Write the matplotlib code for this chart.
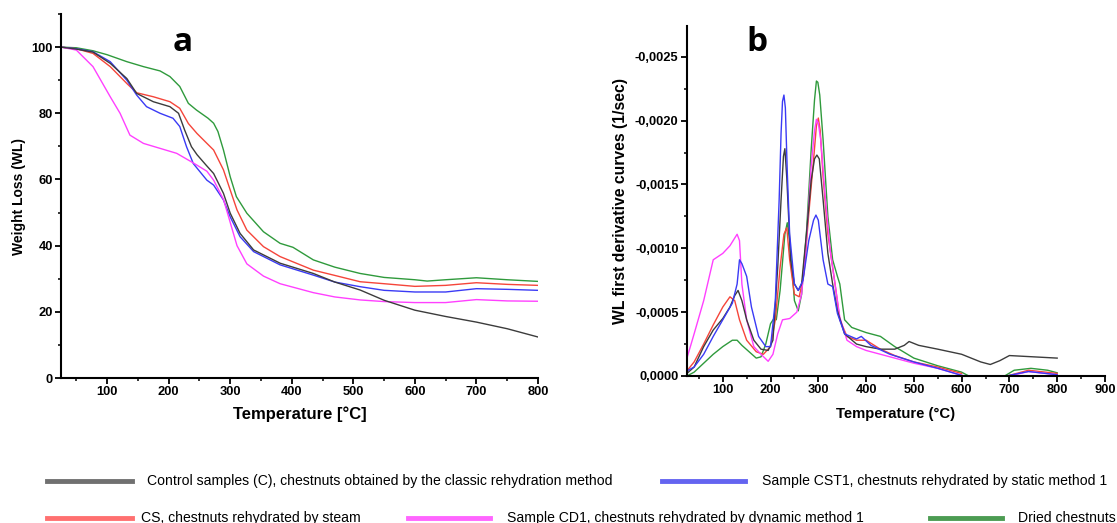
import numpy as np
import matplotlib
matplotlib.use("Agg")
import matplotlib.pyplot as plt
from matplotlib.lines import Line2D
from matplotlib.ticker import MultipleLocator, FuncFormatter

# ---- panel a : TGA weight loss curves ----
temp_c = [25, 50, 77, 105, 132, 148, 175, 202, 216, 226, 237, 246, 260, 273, 289, 300, 316, 338,
          381, 435, 470, 511, 550, 600, 650, 700, 750, 800]
wl_control = [100, 99.4, 98.5, 95.1, 90.5, 86, 83.5, 82, 80, 74.9, 69.9, 67.5, 64.5, 61.8, 55.8, 49.8, 43.7, 38.7,
              34.7, 31.6, 29, 26.6, 23.5, 20.5, 18.6, 16.9, 14.9, 12.4]

temp_cst1 = [25, 50, 77, 105, 132, 148, 164, 186, 207, 218, 229, 240, 262, 273, 289, 300, 316, 338,
             381, 435, 470, 511, 550, 600, 650, 700, 750, 800]
wl_cst1 = [100, 99.5, 98.6, 95.6, 90, 85.5, 82, 80, 78.5, 76, 69.9, 64.8, 59.8, 58.3, 53.8, 48.7, 42.7, 38.2,
           34.2, 31.1, 29, 27.6, 26.5, 26, 26, 27, 26.8, 26.5]

temp_cs = [25, 50, 77, 105, 132, 148, 175, 202, 218, 232, 246, 260, 273, 289, 300, 311, 327, 354,
           381, 435, 470, 511, 550, 600, 650, 700, 750, 800]
wl_cs = [100, 99.5, 98.1, 94.1, 89, 86.2, 85, 83.5, 81.5, 76.9, 73.9, 71.3, 68.9, 62.9, 56.8, 50.8, 44.7, 39.7,
         36.7, 32.6, 31, 29.1, 28.5, 27.7, 28, 28.8, 28.3, 28]

temp_cd1 = [25, 50, 77, 105, 121, 137, 159, 186, 213, 240, 262, 273, 289, 300, 311, 327, 354,
            381, 435, 470, 511, 550, 600, 650, 700, 750, 800]
wl_cd1 = [100, 99.1, 94.1, 85, 80, 73.4, 70.9, 69.4, 67.9, 65, 62.5, 59.8, 54, 47, 40, 34.5, 30.8,
          28.5, 25.8, 24.5, 23.6, 23.1, 22.8, 22.8, 23.7, 23.3, 23.2]

temp_dried = [25, 50, 77, 100, 132, 159, 186, 202, 218, 232, 245, 264, 273, 280, 289, 300, 310, 327, 354,
              381, 402, 435, 470, 511, 550, 600, 620, 650, 700, 750, 800]
wl_dried = [100, 99.8, 98.9, 97.7, 95.6, 94.1, 92.8, 91.1, 88.1, 83, 81, 78.5, 77, 74.5, 68.9, 60.8, 54.8, 49.8, 44.2,
            40.7, 39.5, 35.7, 33.5, 31.6, 30.4, 29.7, 29.3, 29.7, 30.3, 29.7, 29.2]

# ---- panel b : DTG first derivative curves, in units of -1e-4 1/sec ----
dt_control = [25, 40, 60, 80, 100, 115, 125, 132, 140, 150, 165, 180, 195, 205, 215, 222, 227, 230, 234, 242,
              250, 258, 265, 275, 285, 292, 297, 302, 310, 320, 330, 340, 355, 380, 400, 430, 460, 480,
              490, 510, 550, 600, 640, 660, 680, 700, 750, 800]
d_control = [0.2, 0.7, 2.3, 3.6, 4.5, 5.4, 6.3, 6.7, 5.9, 4.4, 2.8, 2.1, 2.0, 2.8, 8.5, 13.8, 17.2, 17.8, 15.5, 9.1,
             7.2, 6.7, 7.2, 11.1, 15.3, 17.0, 17.3, 17.0, 13.8, 9.6, 7.2, 5.1, 3.3, 2.5, 2.3, 2.1, 2.1, 2.4,
             2.7, 2.4, 2.1, 1.7, 1.1, 0.9, 1.2, 1.6, 1.5, 1.4]

dt_cst1 = [25, 40, 60, 80, 100, 120, 130, 135, 140, 150, 160, 175, 190, 200, 210, 218, 222, 225, 228, 231, 235,
           240, 250, 258, 268, 280, 290, 295, 300, 310, 320, 330, 340, 355, 380, 390, 410, 450,
           500, 550, 600, 650, 700, 740, 800]
d_cst1 = [0.4, 0.7, 1.7, 3.1, 4.4, 5.7, 7.2, 9.1, 8.8, 7.8, 5.4, 3.1, 2.3, 2.3, 5.9, 13.8, 19, 21.5, 22, 21, 16,
          11.1, 7.2, 6.7, 7.5, 10.6, 12.2, 12.6, 12.2, 9.1, 7.2, 7.0, 4.9, 3.3, 2.9, 3.1, 2.4, 1.7,
          1.1, 0.6, 0.05, np.nan, 0.05, 0.35, 0.1]

dt_cs = [25, 40, 60, 80, 100, 115, 125, 135, 150, 170, 185, 200, 210, 220, 228, 234, 240, 250, 260,
         270, 280, 290, 296, 300, 304, 310, 320, 335, 345, 360, 380, 400, 430, 460, 500, 550, 600,
         650, 700, 740, 800]
d_cs = [0.4, 1.1, 2.5, 4.0, 5.4, 6.2, 5.9, 4.4, 2.8, 1.9, 1.7, 2.3, 4.4, 8.5, 11.1, 11.6, 9.1, 6.4, 6.2,
        8.0, 12.7, 16.9, 19.6, 20.2, 19.2, 15.6, 11.1, 7.2, 4.4, 3.1, 2.8, 2.8, 2.1, 1.6, 1.1, 0.7, 0.2,
        np.nan, 0.05, 0.45, 0.2]

dt_cd1 = [25, 40, 60, 80, 100, 115, 130, 135, 140, 150, 165, 180, 195, 205, 215, 225, 240, 255, 265,
          275, 285, 292, 296, 300, 305, 315, 325, 335, 345, 360, 380, 400, 450, 500, 550, 600, 610,
          650, 700, 740, 800]
d_cd1 = [1.4, 3.3, 5.9, 9.1, 9.6, 10.2, 11.1, 10.6, 7.2, 4.4, 2.3, 1.7, 1.15, 1.7, 3.3, 4.4, 4.5, 5.0, 6.4,
         10.6, 16.4, 19.2, 20.1, 19.8, 18.5, 13.8, 9.8, 7.2, 4.6, 2.8, 2.3, 2.0, 1.5, 1.0, 0.6, 0.05, 0,
         np.nan, 0, 0.35, 0.1]

dt_dried = [25, 40, 60, 80, 100, 120, 130, 140, 155, 170, 180, 190, 200, 207, 212, 220, 230, 235, 240,
            250, 258, 265, 275, 285, 292, 296, 299, 303, 310, 320, 330, 340, 345, 355, 370, 400, 430,
            460, 500, 550, 600, 615, 650, 690, 710, 745, 780, 800]
d_dried = [0, 0.3, 1.0, 1.7, 2.3, 2.8, 2.8, 2.4, 1.9, 1.4, 1.5, 2.5, 4.1, 4.5, 4.4, 6.7, 11.1, 12.0, 10.6,
           5.9, 5.1, 6.4, 11.1, 17.7, 21.6, 23.1, 23.0, 22.0, 18.5, 12.5, 9.1, 7.8, 7.2, 4.4, 3.8, 3.4, 3.1,
           2.3, 1.4, 0.8, 0.3, 0, np.nan, 0, 0.45, 0.6, 0.45, 0.25]

col_control = "#3c3c3c"
col_cst1 = "#3a3af5"
col_cs = "#f5453a"
col_cd1 = "#ff40ff"
col_dried = "#2f9a3c"

labels = ["Control samples (C), chestnuts obtained by the classic rehydration method",
          "Sample CST1, chestnuts rehydrated by static method 1",
          "CS, chestnuts rehydrated by steam",
          "Sample CD1, chestnuts rehydrated by dynamic method 1",
          "Dried chestnuts"]

plt.rcParams['font.family'] = ['Liberation Sans', 'DejaVu Sans']

fig = plt.figure(figsize=(11.17, 5.23), dpi=100)


def style_axes(ax):
    for s in ['top', 'right']:
        ax.spines[s].set_visible(False)
    for s in ['left', 'bottom']:
        ax.spines[s].set_linewidth(1.5)
    ax.tick_params(which='major', direction='out', length=4, width=1.3, labelsize=9.3, pad=2)
    ax.tick_params(which='minor', direction='out', length=2.5, width=1.1)
    for t in ax.get_xticklabels() + ax.get_yticklabels():
        t.set_fontweight('bold')


# panel a
ax1 = fig.add_axes([0.0546, 0.2772, 0.427, 0.696])
lw = 1.0
ax1.plot(temp_dried, wl_dried, color=col_dried, lw=lw)
ax1.plot(temp_cs, wl_cs, color=col_cs, lw=lw)
ax1.plot(temp_cst1, wl_cst1, color=col_cst1, lw=lw)
ax1.plot(temp_cd1, wl_cd1, color=col_cd1, lw=lw)
ax1.plot(temp_c, wl_control, color=col_control, lw=lw)
ax1.set_xlim(25, 800)
ax1.set_ylim(0, 110)
ax1.set_xticks(range(100, 801, 100))
ax1.xaxis.set_minor_locator(MultipleLocator(50))
ax1.yaxis.set_major_locator(MultipleLocator(20))
ax1.yaxis.set_minor_locator(MultipleLocator(10))
style_axes(ax1)
ax1.set_xlabel("Temperature [°C]", fontsize=12, fontweight='bold', labelpad=6)
ax1.set_ylabel("Weight Loss (WL)", fontsize=10, fontweight='bold', labelpad=4)
ax1.text(0.255, 0.923, "a", transform=ax1.transAxes, fontsize=24, fontweight='bold',
         ha='center', va='center', family=['Open Sans', 'DejaVu Sans'])

# panel b
ax2 = fig.add_axes([0.615, 0.2811, 0.3742, 0.669])
scale = -1e-4
ax2.plot(dt_dried, np.array(d_dried) * scale, color=col_dried, lw=lw)
ax2.plot(dt_cs, np.array(d_cs) * scale, color=col_cs, lw=lw)
ax2.plot(dt_cd1, np.array(d_cd1) * scale, color=col_cd1, lw=lw)
ax2.plot(dt_control, np.array(d_control) * scale, color=col_control, lw=lw)
ax2.plot(dt_cst1, np.array(d_cst1) * scale, color=col_cst1, lw=lw)
ax2.set_xlim(25, 900)
ax2.set_ylim(0, -0.00274)
ax2.set_xticks(range(100, 901, 100))
ax2.xaxis.set_minor_locator(MultipleLocator(50))
ax2.yaxis.set_major_locator(MultipleLocator(0.0005))
ax2.yaxis.set_minor_locator(MultipleLocator(0.00025))


def comma_fmt(v, pos):
    if abs(v) < 1e-12:
        return "0,0000"
    return f"{v:.4f}".replace('.', ',')


ax2.yaxis.set_major_formatter(FuncFormatter(comma_fmt))
style_axes(ax2)
ax2.set_xlabel("Temperature (°C)", fontsize=10.7, fontweight='bold', labelpad=8)
ax2.set_ylabel("WL first derivative curves (1/sec)", fontsize=11.3, fontweight='bold', labelpad=5)
ax2.text(0.167, 0.954, "b", transform=ax2.transAxes, fontsize=24, fontweight='bold',
         ha='center', va='center', family=['Open Sans', 'DejaVu Sans'])

# legend drawn below both panels
leg_items = [
    (47, 132, 147, 481, "#707070", labels[0]),
    (662, 745, 762, 481, "#6464f0", labels[1]),
    (47, 132, 141, 518, "#ff7070", labels[2]),
    (408, 490, 507, 518, "#ff66ff", labels[3]),
    (930, 1002, 1018, 518, "#4c9c52", labels[4]),
]
W, H = 1117, 523
for x0, x1, xt, y, c, lab in leg_items:
    fig.add_artist(Line2D([x0 / W, x1 / W], [1 - y / H, 1 - y / H], color=c, lw=3.5,
                          transform=fig.transFigure))
    fig.text(xt / W, 1 - y / H, lab, fontsize=10.1, va='center', ha='left')

fig.savefig("out.png", dpi=100)
